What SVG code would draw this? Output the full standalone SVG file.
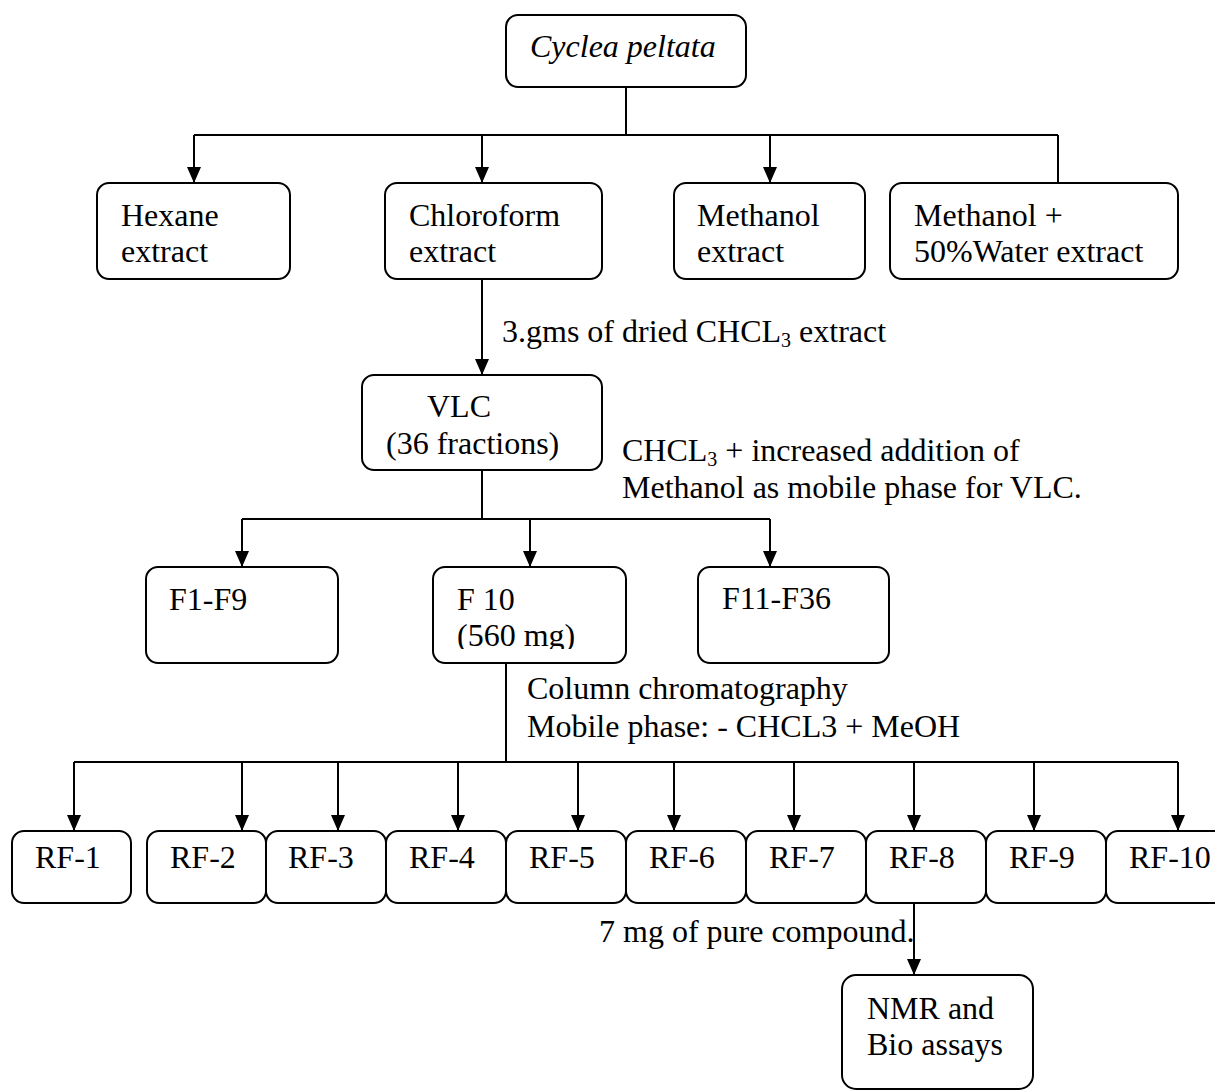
<svg xmlns="http://www.w3.org/2000/svg" width="1215" height="1091" viewBox="0 0 1215 1091">
<style>
.box{fill:#fff;stroke:#000;stroke-width:2}
.t{font-family:"Liberation Serif","Times New Roman",serif;font-size:32px;fill:#000}
.sub{font-size:20px}
.ln{fill:none;stroke:#000;stroke-width:2}
.ar{fill:none;stroke:#000;stroke-width:2;marker-end:url(#ah)}
</style>
<defs>
<marker id="ah" markerUnits="userSpaceOnUse" viewBox="0 0 16 14" refX="16" refY="7" markerWidth="16" markerHeight="14" orient="auto">
<path d="M0,0 L16,7 L0,14 Z" fill="#000"/>
</marker>
<clipPath id="clipF10"><rect x="433" y="567" width="193" height="82"/></clipPath>
</defs>
<rect width="1215" height="1091" fill="#fff"/>
<g id="connectors">
<path class="ln" d="M626,87 V135 M194,135 H1058 M1058,135 V183"/>
<path class="ar" d="M194,135 V183"/>
<path class="ar" d="M482,135 V183"/>
<path class="ar" d="M770,135 V183"/>
<path class="ar" d="M482,279 V375"/>
<path class="ln" d="M482,470 V519 M242,519 H770"/>
<path class="ar" d="M242,519 V567"/>
<path class="ar" d="M530,519 V567"/>
<path class="ar" d="M770,519 V567"/>
<path class="ln" d="M506,663 V762 M74,762 H1178"/>
<path class="ar" d="M74,762 V831"/>
<path class="ar" d="M242,762 V831"/>
<path class="ar" d="M338,762 V831"/>
<path class="ar" d="M458,762 V831"/>
<path class="ar" d="M578,762 V831"/>
<path class="ar" d="M674,762 V831"/>
<path class="ar" d="M794,762 V831"/>
<path class="ar" d="M914,762 V831"/>
<path class="ar" d="M1034,762 V831"/>
<path class="ar" d="M1178,762 V831"/>
<path class="ar" d="M914,903 V975"/>
<text class="t" x="502" y="342">3.gms of dried CHCL<tspan class="sub" dy="5">3</tspan><tspan dy="-5"> extract</tspan></text>
<text class="t" x="622" y="461">CHCL<tspan class="sub" dy="5">3</tspan><tspan dy="-5"> + increased addition of</tspan></text>
<text class="t" x="622" y="498">Methanol as mobile phase for VLC.</text>
<text class="t" x="527" y="699">Column chromatography</text>
<text class="t" x="527" y="737">Mobile phase: - CHCL3 + MeOH</text>
<text class="t" x="599" y="942">7 mg of pure compound.</text>
</g>
<g id="cyclea"><rect class="box" x="506" y="15" width="240" height="72" rx="12"/><text class="t" x="530" y="57" font-style="italic">Cyclea peltata</text></g>
<g id="hexane"><rect class="box" x="97" y="183" width="193" height="96" rx="12"/><text class="t" x="121" y="226">Hexane</text><text class="t" x="121" y="262">extract</text></g>
<g id="chloroform"><rect class="box" x="385" y="183" width="217" height="96" rx="12"/><text class="t" x="409" y="226">Chloroform</text><text class="t" x="409" y="262">extract</text></g>
<g id="methanol"><rect class="box" x="674" y="183" width="191" height="96" rx="12"/><text class="t" x="697" y="226">Methanol</text><text class="t" x="697" y="262">extract</text></g>
<g id="methanolwater"><rect class="box" x="890" y="183" width="288" height="96" rx="12"/><text class="t" x="914" y="226">Methanol +</text><text class="t" x="914" y="262">50%Water extract</text></g>
<g id="vlc"><rect class="box" x="362" y="375" width="240" height="95" rx="12"/><text class="t" x="427" y="417">VLC</text><text class="t" x="386" y="454">(36 fractions)</text></g>
<g id="f1f9"><rect class="box" x="146" y="567" width="192" height="96" rx="12"/><text class="t" x="169" y="610">F1-F9</text></g>
<g id="f10"><rect class="box" x="433" y="567" width="193" height="96" rx="12"/><text class="t" x="457" y="610">F 10</text><text class="t" x="457" y="646" clip-path="url(#clipF10)">(560 mg)</text></g>
<g id="f11f36"><rect class="box" x="698" y="567" width="191" height="96" rx="12"/><text class="t" x="722" y="609">F11-F36</text></g>
<g id="rf1"><rect class="box" x="12" y="831" width="119" height="72" rx="12"/><text class="t" x="35" y="868">RF-1</text></g>
<g id="rf2"><rect class="box" x="147" y="831" width="119" height="72" rx="12"/><text class="t" x="170" y="868">RF-2</text></g>
<g id="rf3"><rect class="box" x="266" y="831" width="120" height="72" rx="12"/><text class="t" x="288" y="868">RF-3</text></g>
<g id="rf4"><rect class="box" x="386" y="831" width="120" height="72" rx="12"/><text class="t" x="409" y="868">RF-4</text></g>
<g id="rf5"><rect class="box" x="506" y="831" width="120" height="72" rx="12"/><text class="t" x="529" y="868">RF-5</text></g>
<g id="rf6"><rect class="box" x="626" y="831" width="120" height="72" rx="12"/><text class="t" x="649" y="868">RF-6</text></g>
<g id="rf7"><rect class="box" x="746" y="831" width="120" height="72" rx="12"/><text class="t" x="769" y="868">RF-7</text></g>
<g id="rf8"><rect class="box" x="866" y="831" width="120" height="72" rx="12"/><text class="t" x="889" y="868">RF-8</text></g>
<g id="rf9"><rect class="box" x="986" y="831" width="120" height="72" rx="12"/><text class="t" x="1009" y="868">RF-9</text></g>
<g id="rf10"><rect class="box" x="1106" y="831" width="120" height="72" rx="12"/><text class="t" x="1129" y="868">RF-10</text></g>
<g id="nmr"><rect class="box" x="842" y="975" width="191" height="114" rx="14"/><text class="t" x="867" y="1019">NMR and</text><text class="t" x="867" y="1055">Bio assays</text></g>
</svg>
